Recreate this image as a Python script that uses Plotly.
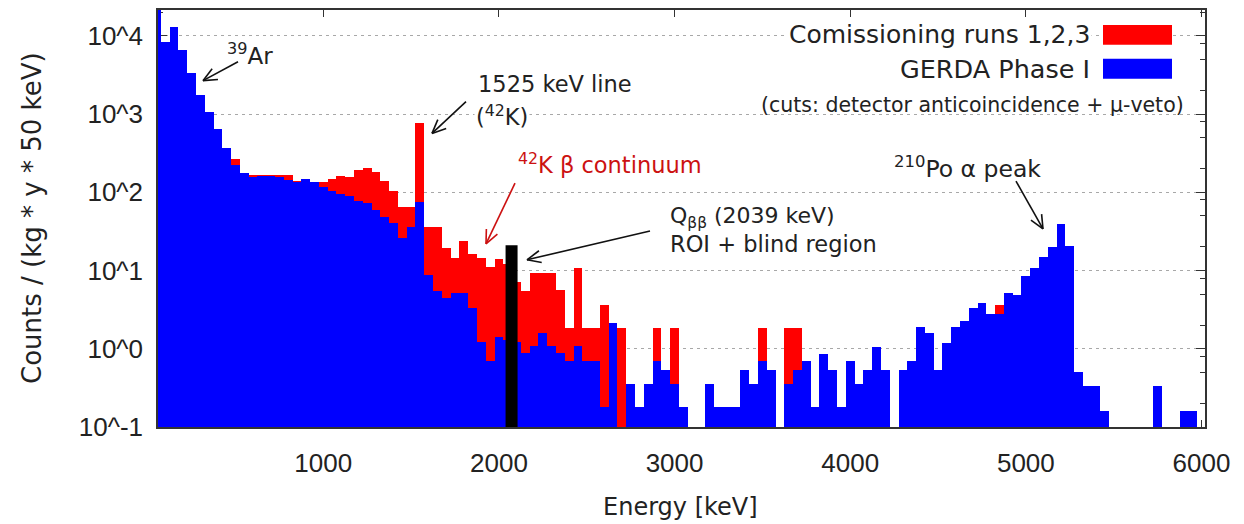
import math
import plotly.graph_objects as go

# ---------------- data ----------------
# step centres of the 50 keV histogram (keV)
energy_keV = list(range(50, 6001, 50))

gerda_phase1 = [
    30000, 8440, 13090, 6620, 3340, 1740, 1057, 649, 372, 226,      # 50-500
    175, 158, 163, 163, 155, 143, 136, 147, 134, 118,               # 550-1000
    103, 95, 89, 78, 74, 60, 49, 40, 26, 36,                        # 1050-1500
    74.5, 8.7, 5.5, 4.5, 5.1, 5.1, 3.3, 1.22, 0.70, 1.41,           # 1550-2000
    1.3, 1.22, 0.88, 1.07, 1.58, 1.07, 0.88, 0.69, 1.07, 0.69,      # 2050-2500
    0.69, 0.18, 2.12, 0, 0.35, 0.18, 0.35, 0.69, 0.53, 0.35,        # 2550-3000
    0.18, 0, 0, 0.35, 0.18, 0.18, 0.18, 0.53, 0.35, 0.69,           # 3050-3500
    0.53, 0, 0.35, 0.53, 0.69, 0.18, 0.87, 0.53, 0.18, 0.69,        # 3550-4000
    0.35, 0.53, 1.05, 0.53, 0, 0.53, 0.69, 1.92, 1.58, 0.53,        # 4050-4500
    1.2, 1.92, 2.29, 3.3, 3.8, 2.78, 2.78, 5.2, 4.8, 8.5,           # 4550-5000
    10.7, 15.1, 19.9, 39.5, 20.8, 0.50, 0.33, 0.33, 0.16, 0,        # 5050-5500
    0, 0, 0, 0, 0.33, 0, 0, 0.16, 0.16, 0,                          # 5550-6000
]

commissioning_123 = [
    30000, 8440, 13090, 6620, 3340, 1740, 1057, 649, 372, 267,      # 50-500
    175, 164, 167, 167, 167, 167, 140, 147, 134, 134,               # 550-1000
    148, 163, 155, 194, 204, 184, 140, 103, 64, 64,                 # 1050-1500
    760, 35.8, 35.8, 19.5, 14.3, 23.6, 16.4, 14.3, 11.1, 14.2,      # 1550-2000
    12, 7.2, 5.5, 9.2, 9.2, 9.2, 5.6, 1.83, 10.9, 1.83,             # 2050-2500
    1.83, 3.6, 2.12, 1.83, 0.35, 0.18, 0.35, 1.83, 0.53, 1.83,      # 2550-3000
    0.18, 0, 0, 0.35, 0.18, 0.18, 0.18, 0.53, 0.35, 1.83,           # 3050-3500
    0.53, 0, 1.83, 1.83, 0.69, 0.18, 0.87, 0.53, 0.18, 0.69,        # 3550-4000
    0.35, 0.53, 1.05, 0.53, 0, 0.53, 0.69, 1.92, 1.58, 0.53,        # 4050-4500
    1.2, 1.92, 2.29, 3.3, 3.8, 2.78, 3.6, 5.2, 4.8, 8.5,            # 4550-5000
    10.7, 15.1, 19.9, 39.5, 20.8, 0.50, 0.33, 0.33, 0.16, 0,        # 5050-5500
    0, 0, 0, 0, 0.33, 0, 0, 0.16, 0.16, 0,                          # 5550-6000
]

qbb_marker_keV = 2072
qbb_marker_range = [0.1, 21]

x_tick_vals = [1000, 2000, 3000, 4000, 5000, 6000]
y_tick_vals = [0.1, 1, 10, 100, 1000, 10000]
y_tick_text = ["10^-1", "10^0", "10^1", "10^2", "10^3", "10^4"]
y_minor_vals = [m * 10 ** d for d in range(-1, 5) for m in (2, 5, 8)]

# ---------------- layout helpers ----------------
W, H = 1244, 524
L, R, T, B = 158, 1205, 8, 427
TXT = "#222222"
FONT = "DejaVu Sans"


def px(x):
    return (x - L) / (R - L)


def py(y):
    return (B - y) / (B - T)


shapes = []
annotations = []


def seg(x0, y0, x1, y1, color, width):
    shapes.append(dict(type="line", xref="paper", yref="paper",
                       x0=px(x0), y0=py(y0), x1=px(x1), y1=py(y1),
                       line=dict(color=color, width=width)))


def arrow(x0, y0, x1, y1, color="#111111", width=1.6, head=15, ang=24):
    seg(x0, y0, x1, y1, color, width)
    dx, dy = x1 - x0, y1 - y0
    ln = math.hypot(dx, dy)
    bx, by = -dx / ln, -dy / ln
    for s in (1, -1):
        t = math.radians(ang) * s
        rx = bx * math.cos(t) - by * math.sin(t)
        ry = bx * math.sin(t) + by * math.cos(t)
        seg(x1, y1, x1 + head * rx, y1 + head * ry, color, width)


def text(x, y, s, size=21, color=TXT, xanchor="left", bg=None, angle=0):
    a = dict(xref="paper", yref="paper", x=px(x), y=py(y), text=s,
             showarrow=False, xanchor=xanchor, yanchor="middle",
             font=dict(family=FONT, size=size, color=color), textangle=angle)
    if bg:
        a["bgcolor"] = bg
    annotations.append(a)


# ---------------- figure ----------------
fig = go.Figure()
fig.add_trace(go.Bar(
    x=energy_keV, y=[v if v > 0 else None for v in commissioning_123],
    width=50, marker=dict(color="#ff0000", line=dict(width=0)),
    name="Comissioning runs 1,2,3", showlegend=False))
fig.add_trace(go.Bar(
    x=energy_keV, y=[v if v > 0 else None for v in gerda_phase1],
    width=50, marker=dict(color="#0000ff", line=dict(width=0)),
    name="GERDA Phase I", showlegend=False))
fig.add_trace(go.Scatter(
    x=[qbb_marker_keV, qbb_marker_keV], y=qbb_marker_range, mode="lines",
    line=dict(color="#000000", width=12), showlegend=False, hoverinfo="skip"))

# annotations
text(250, 52, "<sup>39</sup>Ar", size=23, xanchor="center")
arrow(238, 60, 203, 79)
text(476, 82, "1525 keV line", size=22.5)
text(474, 114, "(<sup>42</sup>K)", size=22.5, bg="white")
arrow(466, 100, 432, 132)
text(516, 162, "<sup>42</sup>K \u03b2 continuum", size=22.5, color="#cc1111")
arrow(515, 182, 486, 243, color="#cc1111")
text(668, 216, "Q<sub>\u03b2\u03b2</sub> (2039 keV)", size=22)
text(668, 243, "ROI + blind region", size=22.5)
arrow(650, 230, 527, 259)
text(892, 166, "<sup>210</sup>Po \u03b1 peak", size=23.5)
arrow(1016, 180, 1043, 228)

# legend
text(1092, 33, "Comissioning runs 1,2,3", size=25, xanchor="right", bg="white")
text(1092, 67, "GERDA Phase I", size=25.5, xanchor="right", bg="white")
text(1186, 103, "(cuts: detector anticoincidence + \u03bc-veto)", size=20.5,
     xanchor="right")
for (y0, y1, c) in [(23, 43, "#ff0000"), (57, 77, "#0000ff")]:
    shapes.append(dict(type="rect", xref="paper", yref="paper",
                       x0=px(1103), x1=px(1172), y0=py(y1), y1=py(y0),
                       fillcolor=c, line=dict(width=0)))

# axis titles
text(32, 217, "Counts / (kg * y * 50 keV)", size=26, xanchor="center", angle=-90)
text(680, 507, "Energy [keV]", size=24, xanchor="center")

fig.update_layout(
    width=W, height=H,
    margin=dict(l=L, r=W - R, t=T, b=H - B, pad=0),
    paper_bgcolor="white", plot_bgcolor="white",
    barmode="overlay", bargap=0,
    shapes=shapes, annotations=annotations,
    font=dict(family="Liberation Sans", color=TXT),
)
fig.update_xaxes(
    range=[59, 6020], tickmode="array", tickvals=x_tick_vals,
    ticks="inside", ticklen=7, tickcolor="#333333", tickwidth=1.2,
    showline=True, linecolor="#333333", linewidth=1.5, mirror="ticks",
    showgrid=False, zeroline=False, layer="below traces",
    ticklabelstandoff=12,
    tickfont=dict(family="Liberation Sans", size=26, color=TXT),
)
fig.update_yaxes(
    type="log", range=[-1, 4.33], tickmode="array",
    tickvals=y_tick_vals, ticktext=y_tick_text,
    ticks="inside", ticklen=9, tickcolor="#333333", tickwidth=1.2,
    minor=dict(tickmode="array", tickvals=y_minor_vals, ticks="inside",
               ticklen=5, tickcolor="#333333", showgrid=False),
    showline=True, linecolor="#333333", linewidth=1.5, mirror="ticks",
    showgrid=True, gridcolor="#a8a8a8", gridwidth=1.3, griddash="3px,4px",
    zeroline=False, layer="below traces",
    ticklabelstandoff=8,
    tickfont=dict(family="Liberation Sans", size=26, color=TXT),
)

fig.write_html("out.html")
